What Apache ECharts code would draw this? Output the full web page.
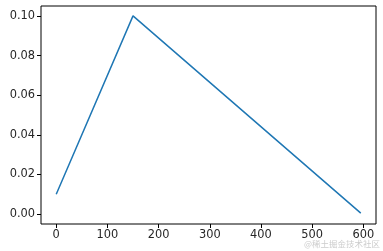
<!DOCTYPE html>
<html><head><meta charset="utf-8">
<script src="https://cdn.jsdelivr.net/npm/echarts@6/dist/echarts.min.js"></script>
<style>html,body{margin:0;padding:0;background:#fff}#c{width:383px;height:251px}</style>
</head><body><div id="c"></div>
<script>
const xValues = [0, 150, 595];
const yValues = [0.01, 0.1, 0.0005];
const xTicks = [0, 100, 200, 300, 400, 500, 600];
const yTicks = [0, 0.02, 0.04, 0.06, 0.08, 0.10];

const chart = echarts.init(document.getElementById('c'), null, {renderer: 'canvas'});
const font = {fontFamily: 'DejaVu Sans', fontSize: 11.4, color: '#262626'};
chart.setOption({
  animation: false,
  grid: {left: 41, top: 6, right: 7, bottom: 27, show: true, borderColor: '#000', borderWidth: 1, backgroundColor: 'transparent'},
  xAxis: {
    type: 'value', min: -29.75, max: 624.75,
    splitLine: {show: false},
    axisLine: {show: false, onZero: false},
    axisTick: {show: true, inside: false, length: 4, lineStyle: {color: '#000'}, customValues: xTicks},
    axisLabel: Object.assign({margin: 6, customValues: xTicks, formatter: v => String(v)}, font)
  },
  yAxis: {
    type: 'value', min: -0.00498, max: 0.105,
    splitLine: {show: false},
    axisLine: {show: false, onZero: false},
    axisTick: {show: true, inside: false, length: 4, lineStyle: {color: '#000'}, customValues: yTicks},
    axisLabel: Object.assign({margin: 6, customValues: yTicks, formatter: v => v.toFixed(2)}, font)
  },
  series: [{
    type: 'line',
    data: xValues.map((x, i) => [x, yValues[i]]),
    showSymbol: false,
    lineStyle: {color: '#1f77b4', width: 1.5},
    itemStyle: {color: '#1f77b4'}
  }],
  graphic: [{
    type: 'text', right: 3, bottom: 3,
    style: {text: '@稀土掘金技术社区', fontSize: 8.5, fill: '#cccccc', fontFamily: 'Noto Sans CJK SC'}
  }]
});
</script></body></html>
